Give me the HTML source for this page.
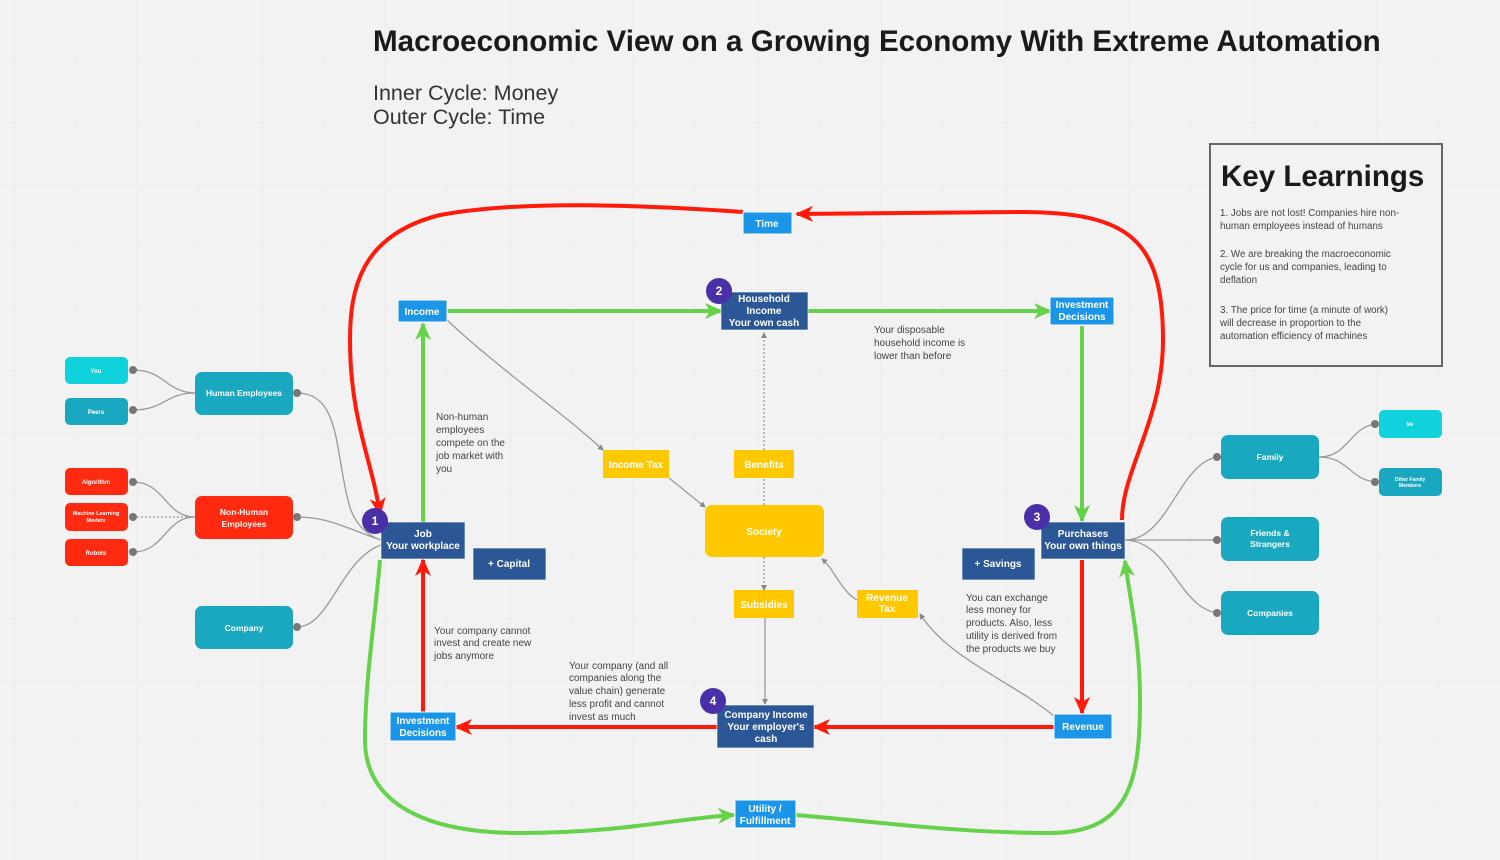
<!DOCTYPE html>
<html><head><meta charset="utf-8"><style>
html,body{margin:0;padding:0;background:#f2f2f2;}
svg{display:block;font-family:"Liberation Sans",Arial,sans-serif;}
.w{fill:#fff;font-weight:bold;text-anchor:middle;}
.n{fill:#444;}
</style></head><body>
<svg width="1500" height="860" viewBox="0 0 1500 860" xmlns="http://www.w3.org/2000/svg" font-size="10">
<defs>
<pattern id="g" width="62" height="62" patternUnits="userSpaceOnUse" x="14" y="0">
<path d="M62 0V62M0 62H62" stroke="#e9e9e9" stroke-width="1" fill="none"/></pattern>
<marker id="ar" markerWidth="18" markerHeight="16" refX="16" refY="8" orient="auto" markerUnits="userSpaceOnUse" viewBox="0 0 18 16"><path d="M0 0L18 8L0 16L5 8z" fill="#ff1a0a"/></marker>
<marker id="ag" markerWidth="18" markerHeight="16" refX="16" refY="8" orient="auto" markerUnits="userSpaceOnUse" viewBox="0 0 18 16"><path d="M0 0L18 8L0 16L5 8z" fill="#66d14a"/></marker>
<marker id="gr" markerWidth="6" markerHeight="6" refX="5" refY="3" orient="auto" markerUnits="userSpaceOnUse"><path d="M0 0L6 3L0 6z" fill="#888"/></marker>
</defs>
<rect width="1500" height="860" fill="url(#g)"/>

<text x="373" y="51" style="font-size:29.6px" font-weight="bold" fill="#1a1a1a">Macroeconomic View on a Growing Economy With Extreme Automation</text>
<text x="373" y="100" style="font-size:21.5px" fill="#333">Inner Cycle: Money</text>
<text x="373" y="124" style="font-size:21.5px" fill="#333">Outer Cycle: Time</text>

<rect x="1210" y="144" width="232" height="222" fill="#f2f2f2" stroke="#666" stroke-width="2"/>
<text x="1221" y="186" style="font-size:29.5px" font-weight="bold" fill="#1a1a1a">Key Learnings</text>
<g class="n" style="font-size:9.8px"><text x="1220" y="216">1. Jobs are not lost! Companies hire non-</text><text x="1220" y="229">human employees instead of humans</text>
<text x="1220" y="257">2. We are breaking the macroeconomic</text><text x="1220" y="270">cycle for us and companies, leading to</text><text x="1220" y="283">deflation</text>
<text x="1220" y="313">3. The price for time (a minute of work)</text><text x="1220" y="326">will decrease in proportion to the</text><text x="1220" y="339">automation efficiency of machines</text></g>

<g fill="none" stroke="#ff1a0a" stroke-width="4">
<path d="M1122 520 C1122 470 1163 420 1163 340 C1163 240 1130 212 1020 212 L797 214" marker-end="url(#ar)"/>
<path d="M743 212 C640 205 520 200 440 215 C360 235 350 290 350 340 C350 420 372 460 380 514" marker-end="url(#ar)"/>
</g>
<g fill="none" stroke="#66d14a" stroke-width="4">
<path d="M380 560 C375 620 365 680 365 740 C365 800 420 833 520 833 C620 833 680 818 734 815" marker-end="url(#ag)"/>
<path d="M796 815 C880 822 960 833 1050 833 C1130 833 1140 780 1140 700 C1140 640 1130 600 1125 561" marker-end="url(#ag)"/>
<path d="M447 311 H721" marker-end="url(#ag)"/>
<path d="M808 311 H1050" marker-end="url(#ag)"/>
<path d="M1082 326 V521" marker-end="url(#ag)"/>
<path d="M423 522 V324" marker-end="url(#ag)"/>
</g>
<g fill="none" stroke="#ff1a0a" stroke-width="4">
<path d="M1082 560 V713" marker-end="url(#ar)"/>
<path d="M1054 727 H814" marker-end="url(#ar)"/>
<path d="M717 727 H456" marker-end="url(#ar)"/>
<path d="M423 712 V560" marker-end="url(#ar)"/>
</g>

<g fill="none" stroke="#999" stroke-width="1.3">
<path d="M447 320 C500 370 560 410 603 450" marker-end="url(#gr)"/>
<path d="M669 478 L705 507" marker-end="url(#gr)"/>
<path d="M764 450 V333" stroke-dasharray="2 2" marker-end="url(#gr)"/>
<path d="M764 505 V478" stroke-dasharray="2 2"/>
<path d="M764 557 V590" stroke-dasharray="2 2" marker-end="url(#gr)"/>
<path d="M765 618 V704" marker-end="url(#gr)"/>
<path d="M1054 716 C1010 680 950 660 920 614" marker-end="url(#gr)"/>
<path d="M857 600 C840 590 835 570 822 559" marker-end="url(#gr)"/>
<path d="M133 370 C165 370 165 392 195 393"/><path d="M133 410 C165 410 165 393 195 393"/>
<path d="M133 482 C165 482 165 517 195 517"/><path d="M133 517 H195" stroke-dasharray="2 2"/><path d="M133 552 C165 552 165 517 195 517"/>
<path d="M297 393 C340 393 335 450 348 500 C352 520 365 535 381 540"/>
<path d="M297 517 C330 517 350 530 381 540"/>
<path d="M297 627 C330 627 340 560 381 545"/>
<path d="M1125 540 C1170 540 1180 457 1221 457"/><path d="M1125 540 H1221"/><path d="M1125 540 C1170 540 1180 613 1221 613"/>
<path d="M1319 457 C1350 457 1350 424 1379 424"/><path d="M1319 457 C1350 457 1350 482 1379 482"/>
</g>
<g fill="#777"><circle cx="133" cy="370" r="4"/><circle cx="133" cy="410" r="4"/><circle cx="133" cy="482" r="4"/><circle cx="133" cy="517" r="4"/><circle cx="133" cy="552" r="4"/><circle cx="297" cy="393" r="4"/><circle cx="297" cy="517" r="4"/><circle cx="297" cy="627" r="4"/>
<circle cx="1217" cy="457" r="4"/><circle cx="1217" cy="540" r="4"/><circle cx="1217" cy="613" r="4"/><circle cx="1375" cy="424" r="4"/><circle cx="1375" cy="482" r="4"/></g>

<rect x="65" y="357" width="63" height="27" rx="5" fill="#10d2dc"/><text class="w" x="96" y="373" style="font-size:6px">You</text>
<rect x="65" y="398" width="63" height="27" rx="5" fill="#1aa8c0"/><text class="w" x="96" y="414" style="font-size:6px">Peers</text>
<rect x="195" y="372" width="98" height="43" rx="7" fill="#1aa8c0"/><text class="w" x="244" y="396" style="font-size:8.5px">Human Employees</text>
<rect x="65" y="468" width="63" height="27" rx="5" fill="#ff2a10"/><text class="w" x="96" y="484" style="font-size:6px">Algorithm</text>
<rect x="65" y="503" width="63" height="28" rx="5" fill="#ff2a10"/><text class="w" x="96" y="515" style="font-size:5.5px">Machine Learning</text><text class="w" x="96" y="522" style="font-size:5.5px">Models</text>
<rect x="65" y="539" width="63" height="27" rx="5" fill="#ff2a10"/><text class="w" x="96" y="555" style="font-size:6px">Robots</text>
<rect x="195" y="496" width="98" height="43" rx="7" fill="#ff2a10"/><text class="w" x="244" y="515" style="font-size:8.5px">Non-Human</text><text class="w" x="244" y="527" style="font-size:8.5px">Employees</text>
<rect x="195" y="606" width="98" height="43" rx="7" fill="#1aa8c0"/><text class="w" x="244" y="631" style="font-size:8.5px">Company</text>

<rect x="1221" y="435" width="98" height="44" rx="7" fill="#1aa8c0"/><text class="w" x="1270" y="460" style="font-size:8.5px">Family</text>
<rect x="1221" y="517" width="98" height="44" rx="7" fill="#1aa8c0"/><text class="w" x="1270" y="536" style="font-size:8.5px">Friends &amp;</text><text class="w" x="1270" y="547" style="font-size:8.5px">Strangers</text>
<rect x="1221" y="591" width="98" height="44" rx="7" fill="#1aa8c0"/><text class="w" x="1270" y="616" style="font-size:8.5px">Companies</text>
<rect x="1379" y="410" width="63" height="28" rx="5" fill="#10d2dc"/><text class="w" x="1410" y="426" style="font-size:5px">Me</text>
<rect x="1379" y="468" width="63" height="28" rx="5" fill="#1aa8c0"/><text class="w" x="1410" y="481" style="font-size:5px">Other Family</text><text class="w" x="1410" y="487" style="font-size:5px">Members</text>

<g stroke="#fff" stroke-width="1" fill="#1a95e8">
<rect x="743" y="212" width="49" height="22"/><rect x="398" y="300" width="49" height="22"/>
<rect x="1050" y="297" width="64" height="28"/><rect x="390" y="712" width="66" height="29"/>
<rect x="1054" y="714" width="58" height="25"/><rect x="735" y="800" width="61" height="28"/></g>
<text class="w" x="767" y="227">Time</text><text class="w" x="422" y="315">Income</text>
<text class="w" x="1082" y="308">Investment</text><text class="w" x="1082" y="320">Decisions</text>
<text class="w" x="423" y="724">Investment</text><text class="w" x="423" y="736">Decisions</text>
<text class="w" x="1083" y="730">Revenue</text>
<text class="w" x="765" y="812">Utility /</text><text class="w" x="765" y="824">Fulfillment</text>

<g fill="#2b5797" stroke="#fff" stroke-width="0.6">
<rect x="721" y="292" width="87" height="38"/><rect x="381" y="522" width="84" height="37"/>
<rect x="1041" y="522" width="84" height="37"/><rect x="717" y="705" width="97" height="43"/>
<rect x="473" y="548" width="73" height="32"/><rect x="962" y="548" width="73" height="32"/></g>
<text class="w" x="764" y="302">Household</text><text class="w" x="764" y="314">Income</text><text class="w" x="764" y="326" font-weight="normal">Your own cash</text>
<text class="w" x="423" y="537">Job</text><text class="w" x="423" y="549" font-weight="normal">Your workplace</text>
<text class="w" x="1083" y="537">Purchases</text><text class="w" x="1083" y="549" font-weight="normal">Your own things</text>
<text class="w" x="766" y="718">Company Income</text><text class="w" x="766" y="730" font-weight="normal">Your employer's</text><text class="w" x="766" y="742" font-weight="normal">cash</text>
<text class="w" x="509" y="567">+ Capital</text><text class="w" x="998" y="567">+ Savings</text>

<g fill="#ffc800"><rect x="603" y="450" width="66" height="28"/><rect x="734" y="450" width="60" height="28"/>
<rect x="705" y="505" width="119" height="52" rx="7"/><rect x="734" y="590" width="60" height="28"/><rect x="857" y="590" width="61" height="28"/></g>
<text class="w" x="636" y="468">Income Tax</text><text class="w" x="764" y="468">Benefits</text><text class="w" x="764" y="535">Society</text>
<text class="w" x="764" y="608">Subsidies</text><text class="w" x="887" y="601">Revenue</text><text class="w" x="887" y="612">Tax</text>

<g fill="#4b2fa8"><circle cx="719" cy="291" r="13"/><circle cx="375" cy="521" r="13"/><circle cx="1037" cy="517" r="13"/><circle cx="713" cy="701" r="13"/></g>
<g class="w" style="font-size:12px"><text x="719" y="295">2</text><text x="375" y="525">1</text><text x="1037" y="521">3</text><text x="713" y="705">4</text></g>

<g class="n"><text x="436" y="420">Non-human</text><text x="436" y="433">employees</text><text x="436" y="446">compete on the</text><text x="436" y="459">job market with</text><text x="436" y="472">you</text>
<text x="874" y="333">Your disposable</text><text x="874" y="346">household income is</text><text x="874" y="359">lower than before</text>
<text x="434" y="634">Your company cannot</text><text x="434" y="646">invest and create new</text><text x="434" y="659">jobs anymore</text>
<text x="569" y="669">Your company (and all</text><text x="569" y="681">companies along the</text><text x="569" y="694">value chain) generate</text><text x="569" y="707">less profit and cannot</text><text x="569" y="720">invest as much</text>
<text x="966" y="601">You can exchange</text><text x="966" y="613">less money for</text><text x="966" y="626">products. Also, less</text><text x="966" y="639">utility is derived from</text><text x="966" y="652">the products we buy</text></g>
</svg>
</body></html>
